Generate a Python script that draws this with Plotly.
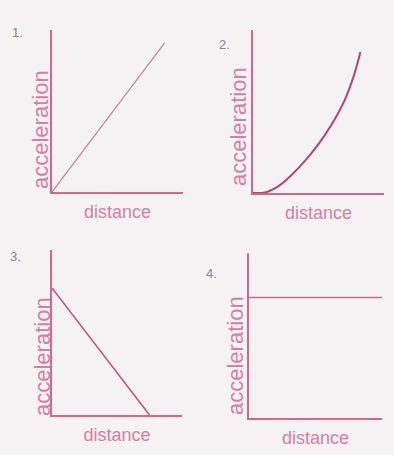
import plotly.graph_objects as go

# Panel data (arbitrary units, axes 0..10)
p1_x = [0, 8.6]
p1_y = [0, 9.2]

p2_x = [0, 1.0, 2.0, 3.0, 4.0, 5.0, 6.0, 7.0, 7.7, 8.2]
p2_y = [0, 0.05, 0.45, 1.15, 2.0, 3.0, 4.2, 5.7, 7.2, 8.65]

p3_x = [0, 7.5]
p3_y = [7.7, 0]

p4_x = [0, 10]
p4_y = [7.3, 7.3]

panel_labels = ["1.", "2.", "3.", "4."]
x_title = "distance"
y_title = "acceleration"

W, H = 394, 455
# pixel boxes: (x0, x1, ytop, ybottom)
boxes = [(52, 183, 30, 192), (253, 384, 30, 193), (52, 182, 250, 415), (249, 382, 253, 418)]
label_pos = [(17, 33), (224, 45), (15, 256), (212, 273)]
ytitle_pos = [(40, 130), (238, 127), (42, 357), (235, 355)]
line_styles = [dict(color="#b88494", width=1.2), dict(color="#b04672", width=2),
               dict(color="#b45c80", width=1.6), dict(color="#c2708f", width=1.4)]

series = [(p1_x, p1_y, "linear"), (p2_x, p2_y, "spline"), (p3_x, p3_y, "linear"), (p4_x, p4_y, "linear")]

axis_col = "#d3668a"
text_col = "#d77da2"
font_fam = "Liberation Sans, Arial, sans-serif"

fig = go.Figure()
layout = dict(width=W, height=H, margin=dict(l=0, r=0, t=0, b=0),
              paper_bgcolor="#f4f2f3", plot_bgcolor="rgba(0,0,0,0)", showlegend=False,
              annotations=[])

for i, ((x, y, shape), box, ls) in enumerate(zip(series, boxes, line_styles)):
    n = i + 1
    xa = "x" if n == 1 else f"x{n}"
    ya = "y" if n == 1 else f"y{n}"
    fig.add_trace(go.Scatter(x=x, y=y, mode="lines", line=dict(shape=shape, smoothing=1.0, **ls),
                             xaxis=xa, yaxis=ya, hoverinfo="skip"))
    x0, x1, yt, yb = box
    common = dict(showgrid=False, zeroline=False, showticklabels=False, ticks="",
                  showline=True, linecolor=axis_col, linewidth=2, range=[0, 10], automargin=True)
    layout["xaxis" if n == 1 else f"xaxis{n}"] = dict(
        domain=[x0 / W, x1 / W], anchor=ya,
        title=dict(text=x_title, standoff=12, font=dict(size=18, color=text_col, family=font_fam)),
        **common)
    layout["yaxis" if n == 1 else f"yaxis{n}"] = dict(
        domain=[1 - yb / H, 1 - yt / H], anchor=xa, **common)
    tx, ty = ytitle_pos[i]
    layout["annotations"].append(dict(text=y_title, xref="paper", yref="paper",
                                      x=tx / W, y=1 - ty / H, xanchor="center", yanchor="middle",
                                      textangle=-90, showarrow=False,
                                      font=dict(size=22, color=text_col, family=font_fam)))
    lx, ly = label_pos[i]
    layout["annotations"].append(dict(text=panel_labels[i], xref="paper", yref="paper",
                                      x=lx / W, y=1 - ly / H, xanchor="center", yanchor="middle",
                                      showarrow=False,
                                      font=dict(size=13, color="#8a8486", family=font_fam)))

fig.update_layout(**layout)
fig.write_html("out.html", config={"displayModeBar": False},
               post_script="document.body.style.margin='0';document.body.style.overflow='hidden';")
